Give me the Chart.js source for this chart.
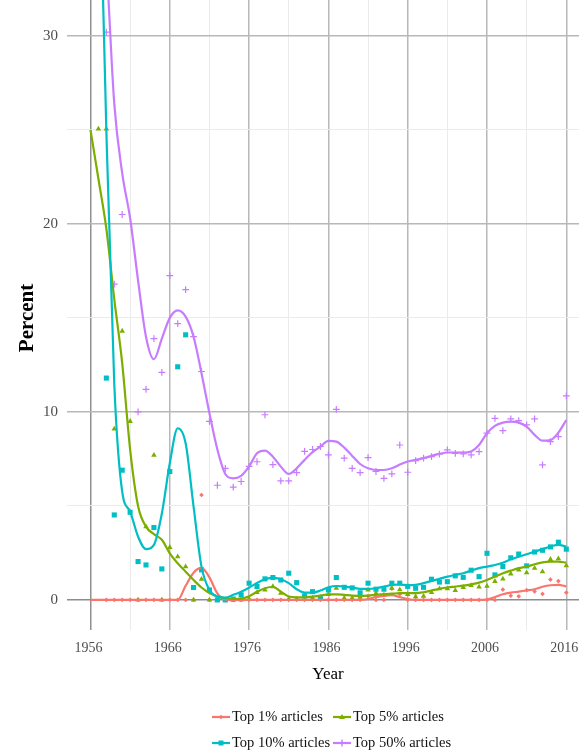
<!DOCTYPE html>
<html>
<head>
<meta charset="utf-8">
<script src="https://cdn.jsdelivr.net/npm/chart.js@4.4.1/dist/chart.umd.min.js"></script>
<style>
  html, body { margin: 0; padding: 0; background: #fff; }
  #wrap { width: 579px; height: 753px; }
</style>
</head>
<body>
<div id="wrap"><canvas id="chart" width="579" height="753"></canvas></div>
<script>
  const years = [
    1956, 1957, 1958, 1959, 1960, 1961, 1962, 1963, 1964, 1965,
    1966, 1967, 1968, 1969, 1970, 1971, 1972, 1973, 1974, 1975,
    1976, 1977, 1978, 1979, 1980, 1981, 1982, 1983, 1984, 1985,
    1986, 1987, 1988, 1989, 1990, 1991, 1992, 1993, 1994, 1995,
    1996, 1997, 1998, 1999, 2000, 2001, 2002, 2003, 2004, 2005,
    2006, 2007, 2008, 2009, 2010, 2011, 2012, 2013, 2014, 2015,
    2016
  ];

  // yearly shares (points), null = not on the plot
  const top1Points = [
    null, null, 0, 0, 0, 0, 0, 0, 0, 0,
    0, 0, 0, 0, 5.58, 0, 0, 0, 0, 0,
    0, 0, 0, 0, 0, 0, 0, 0, 0, 0,
    0, 0, 0, 0, 0, 0.2, 0, 0, 0.6, 0.3,
    0, 0, 0, 0, 0, 0, 0, 0, 0, 0,
    0, 0, 0.55, 0.22, 0.19, 0.52, 0.45, 0.32, 1.08, 1.0,
    0.39
  ];
  const top5Points = [
    null, 25.05, 25.05, 9.1, 14.3, 9.5, 0, 3.9, 7.7, 0,
    2.8, 2.3, 1.77, 0, 1.1, 0, 0, 0, 0, 0,
    0.05, 0.4, 0.53, 0.71, 0.36, 0.05, 0.05, 0.25, 0.1, 0.15,
    0.3, 0.62, 0.1, 0.1, 0.15, 0.53, 0.36, 0.27, 0.62, 0.55,
    0.3, 0.18, 0.2, 0.4, 0.6, 0.6, 0.5, 0.67, 0.77, 0.69,
    0.73, 0.99, 1.12, 1.39, 1.6, 1.45, 1.69, 1.5, 2.16, 2.19,
    1.82
  ];
  const top10Points = [
    null, null, 11.8, 4.52, 6.9, 4.66, 2.04, 1.86, 3.85, 1.65,
    6.83, 12.4, 14.1, 0.66, 1.6, 0.53, 0, 0, 0.05, 0.27,
    0.89, 0.71, 1.12, 1.19, 1.06, 1.42, 0.92, 0.21, 0.44, 0.13,
    0.53, 1.19, 0.67, 0.64, 0.38, 0.89, 0.57, 0.57, 0.89, 0.89,
    0.72, 0.62, 0.67, 1.1, 0.95, 0.97, 1.28, 1.2, 1.58, 1.24,
    2.48, 1.33, 1.78, 2.24, 2.44, 1.81, 2.55, 2.64, 2.82, 3.07,
    2.7
  ];
  const top50Points = [
    null, null, 30.2, 16.8, 20.5, null, 10.0, 11.2, 13.9, 12.1,
    17.25, 14.7, 16.5, 14.0, 12.15, 9.5, 6.1, 7.0, 6.0, 6.3,
    7.1, 7.35, 9.85, 7.2, 6.33, 6.33, 6.77, 7.9, 8.0, 8.16,
    7.71, 10.14, 7.54, 7.0, 6.77, 7.57, 6.83, 6.47, 6.7, 8.24,
    6.79, 7.41, 7.54, 7.62, 7.75, 7.98, 7.8, 7.77, 7.71, 7.89,
    8.87, 9.66, 9.0, 9.63, 9.54, 9.31, 9.63, 7.18, 8.42, 8.69,
    10.85
  ];

  // smoothed trend lines
  const top1Smooth = [
    0, 0, 0, 0, 0, 0, 0, 0, 0, 0,
    0, 0, 0.75, 1.45, 1.7, 1.2, 0.35, 0.03, 0, 0,
    0, 0, 0, 0, 0, 0, 0, 0, 0, 0,
    0, 0, 0, 0, 0, 0.05, 0.15, 0.22, 0.25, 0.15,
    0.05, 0, 0, 0, 0, 0, 0, 0, 0, 0,
    0.03, 0.15, 0.3, 0.39, 0.44, 0.5, 0.57, 0.7, 0.78, 0.8,
    0.72
  ];
  const top5Smooth = [
    25, 22.4, 19.75, 16.0, 12.6, 8.0, 5.0, 3.9, 3.5, 3.2,
    2.48, 1.95, 1.5, 1.06, 0.66, 0.36, 0.18, 0.09, 0.05, 0.07,
    0.2, 0.43, 0.62, 0.7, 0.44, 0.18, 0.14, 0.14, 0.18, 0.23,
    0.3, 0.3, 0.27, 0.23, 0.21, 0.23, 0.27, 0.3, 0.33, 0.36,
    0.36, 0.36, 0.41, 0.5, 0.59, 0.66, 0.71, 0.76, 0.83, 0.92,
    1.06, 1.24, 1.42, 1.56, 1.69, 1.77, 1.9, 2.0, 2.04, 2.04,
    1.98
  ];
  const top10Smooth = [
    60, 42, 25, 11.5, 5.76, 4.7, 3.37, 2.7, 2.93, 4.6,
    7.27, 9.13, 8.33, 4.96, 1.77, 0.53, 0.18, 0.12, 0.27, 0.44,
    0.65, 0.9, 1.1, 1.19, 1.1, 0.89, 0.57, 0.39, 0.39, 0.5,
    0.67, 0.74, 0.71, 0.66, 0.59, 0.59, 0.62, 0.71, 0.8, 0.82,
    0.78, 0.8, 0.89, 1.01, 1.12, 1.24, 1.33, 1.42, 1.56, 1.69,
    1.77, 1.86, 1.98, 2.16, 2.3, 2.43, 2.57, 2.7, 2.84, 2.93,
    2.84
  ];
  const top50Smooth = [
    48, 40, 34, 26.4, 22.7, 20.3, 17.0, 14.0, 12.8, 13.9,
    15.0, 15.4, 15.07, 14.0, 12.06, 9.93, 8.0, 6.7, 6.47, 6.6,
    7.1, 7.8, 7.94, 7.62, 7.09, 6.7, 7.0, 7.45, 7.86, 8.16,
    8.46, 8.42, 8.1, 7.66, 7.23, 7.0, 6.91, 6.91, 7.0, 7.2,
    7.36, 7.45, 7.54, 7.66, 7.77, 7.84, 7.84, 7.84, 7.9, 8.24,
    8.87, 9.26, 9.43, 9.48, 9.43, 9.22, 8.78, 8.47, 8.5, 8.9,
    9.57
  ];

  const seriesNames = ['Top 1% articles', 'Top 5% articles', 'Top 10% articles', 'Top 50% articles'];
  const seriesColors = ['#F8766D', '#7CAE00', '#00BFC4', '#C77CFF'];

  const xTickYears = [1956, 1966, 1976, 1986, 1996, 2006, 2016];
  const xGridYears = [1956, 1961, 1966, 1971, 1976, 1981, 1986, 1991, 1996, 2001, 2006, 2011, 2016];
  const yTickValues = [0, 10, 20, 30];
  const yGridValues = [0, 5, 10, 15, 20, 25, 30];

  const SERIF = '"Liberation Serif", "Times New Roman", serif';

  function toXY(vals) {
    const out = [];
    vals.forEach((v, i) => { if (v !== null) out.push({ x: years[i], y: v }); });
    return out;
  }

  const markers = [
    { style: 'rectRot', radius: 2.3, fill: true },
    { style: 'triangle', radius: 3.2, fill: true },
    { style: 'rect', radius: 3.6, fill: true },
    { style: 'cross', radius: 3.4, fill: false }
  ];

  const pointSets = [top1Points, top5Points, top10Points, top50Points];
  const smoothSets = [top1Smooth, top5Smooth, top10Smooth, top50Smooth];

  const datasets = [];
  // lines first so they sit on top; purple on top of all
  [3, 2, 1, 0].forEach(i => {
    datasets.push({
      label: seriesNames[i] + ' trend',
      data: toXY(smoothSets[i]),
      showLine: true,
      borderColor: seriesColors[i],
      borderWidth: 2.2,
      pointRadius: 0,
      cubicInterpolationMode: 'monotone'
    });
  });
  [3, 2, 1, 0].forEach(i => {
    const m = markers[i];
    datasets.push({
      label: seriesNames[i],
      data: toXY(pointSets[i]),
      showLine: false,
      pointStyle: m.style,
      pointRadius: m.radius,
      pointBackgroundColor: seriesColors[i],
      pointBorderColor: seriesColors[i],
      pointBorderWidth: m.fill ? 0 : 1.2
    });
  });

  function isMajorX(v) { return (v - 1956) % 10 === 0; }

  function drawText(ctx, text, x, y, font, color, align, rotate) {
    ctx.save();
    ctx.translate(x, y);
    if (rotate) ctx.rotate(rotate);
    ctx.font = font;
    ctx.fillStyle = color;
    ctx.textAlign = align;
    ctx.textBaseline = 'middle';
    ctx.fillText(text, 0, 0);
    ctx.restore();
  }

  function drawMarker(ctx, i, x, y) {
    const c = seriesColors[i];
    ctx.save();
    ctx.fillStyle = c;
    ctx.strokeStyle = c;
    ctx.lineWidth = 1.4;
    if (i === 0) {
      ctx.beginPath();
      ctx.moveTo(x, y - 2.3); ctx.lineTo(x + 2.3, y); ctx.lineTo(x, y + 2.3); ctx.lineTo(x - 2.3, y);
      ctx.closePath(); ctx.fill();
    } else if (i === 1) {
      ctx.beginPath();
      ctx.moveTo(x, y - 3); ctx.lineTo(x + 3, y + 2); ctx.lineTo(x - 3, y + 2);
      ctx.closePath(); ctx.fill();
    } else if (i === 2) {
      ctx.fillRect(x - 2.5, y - 2.5, 5, 5);
    } else {
      ctx.beginPath();
      ctx.moveTo(x, y - 3.4); ctx.lineTo(x, y + 3.4);
      ctx.stroke();
    }
    ctx.restore();
  }

  const textPlugin = {
    id: 'textPlugin',
    afterDraw(chart) {
      const ctx = chart.ctx;
      const xs = chart.scales.x;
      const ys = chart.scales.y;

      xTickYears.forEach(v => {
        drawText(ctx, String(v), xs.getPixelForValue(v) - 2, 648, '14px ' + SERIF, '#4d4d4d', 'center');
      });
      yTickValues.forEach(v => {
        drawText(ctx, String(v), 58, ys.getPixelForValue(v), '15px ' + SERIF, '#4d4d4d', 'right');
      });

      drawText(ctx, 'Year', 328, 675, '17px ' + SERIF, '#000', 'center');
      drawText(ctx, 'Percent', 28, 318, 'bold 21px ' + SERIF, '#000', 'center', -Math.PI / 2);

      // legend, two rows of two
      const cols = [212, 333];
      const rows = [717, 743];
      seriesNames.forEach((name, i) => {
        const x0 = cols[i % 2];
        const y0 = rows[Math.floor(i / 2)];
        ctx.save();
        ctx.strokeStyle = seriesColors[i];
        ctx.lineWidth = 2.2;
        ctx.beginPath();
        ctx.moveTo(x0, y0); ctx.lineTo(x0 + 18, y0);
        ctx.stroke();
        ctx.restore();
        drawMarker(ctx, i, x0 + 9, y0);
        drawText(ctx, name, x0 + 20, y0, '14.5px ' + SERIF, '#111', 'left');
      });
    }
  };

  new Chart(document.getElementById('chart').getContext('2d'), {
    type: 'scatter',
    data: { datasets: datasets },
    options: {
      responsive: false,
      animation: false,
      layout: { padding: 0, autoPadding: false },
      plugins: { legend: { display: false }, tooltip: { enabled: false } },
      scales: {
        x: {
          type: 'linear',
          min: 1953.04,
          max: 2017.6,
          afterBuildTicks: s => { s.ticks = xGridYears.map(v => ({ value: v })); },
          afterFit: s => { s.height = 123; },
          ticks: { display: false },
          border: { display: false },
          grid: {
            drawTicks: false,
            color: c => c.tick.value === 1956 ? '#909090' : (isMajorX(c.tick.value) ? '#b8b8b8' : '#ebebeb'),
            lineWidth: c => isMajorX(c.tick.value) ? 1.5 : 1
          }
        },
        y: {
          type: 'linear',
          min: -1.6,
          max: 31.91,
          afterBuildTicks: s => { s.ticks = yGridValues.map(v => ({ value: v })); },
          afterFit: s => { s.width = 67; },
          ticks: { display: false },
          border: { display: false },
          grid: {
            drawTicks: false,
            color: c => c.tick.value === 0 ? '#8c8c8c' : (c.tick.value % 10 === 0 ? '#b8b8b8' : '#ebebeb'),
            lineWidth: c => c.tick.value % 10 === 0 ? 1.5 : 1
          }
        }
      }
    },
    plugins: [textPlugin]
  });
</script>
</body>
</html>
